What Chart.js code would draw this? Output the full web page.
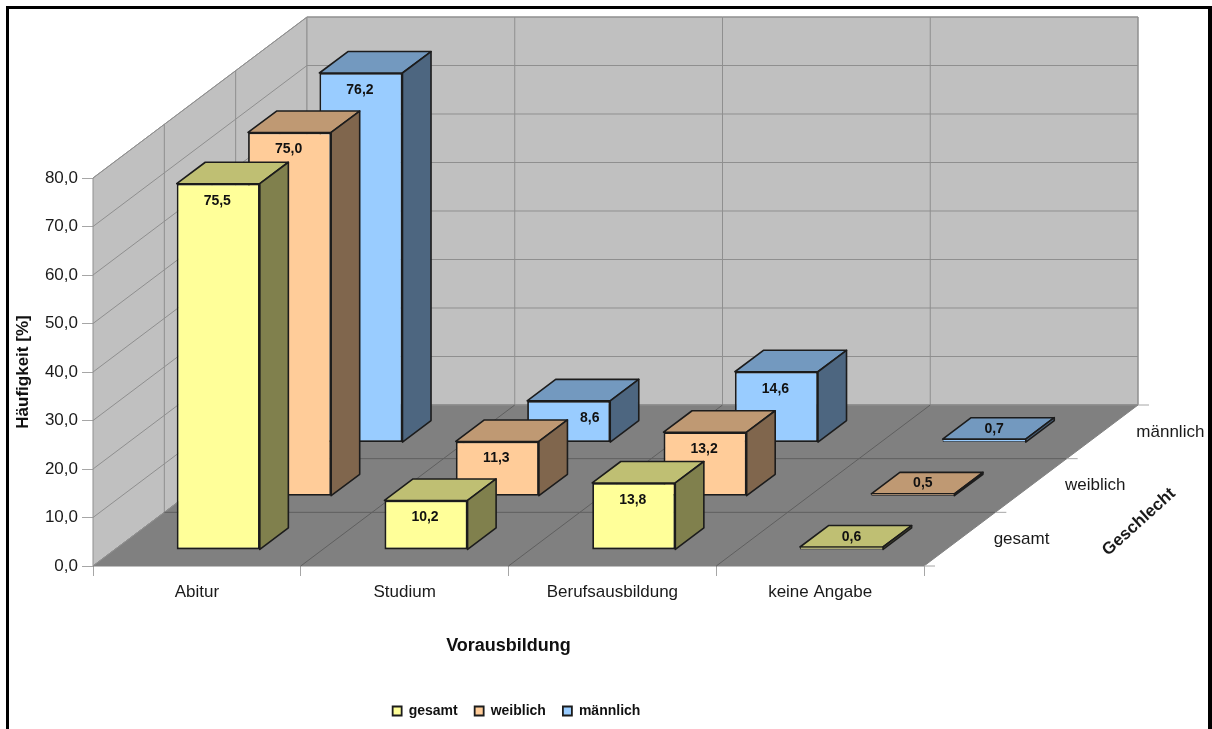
<!DOCTYPE html>
<html lang="de">
<head>
  <meta charset="UTF-8">
  <title>Vorausbildung</title>
  <script src="https://cdn.jsdelivr.net/npm/chart.js"></script>
  <style>
    html, body { margin: 0; background: #fff; overflow: hidden; }
    #grafik { position: absolute; left: 0; top: 0; }
    .rahmen {
      position: absolute; left: 6px; top: 6px; width: 1206px; height: 723px;
      box-sizing: border-box; border: solid #000; border-width: 3px 4px 0 3px;
      pointer-events: none;
    }
  </style>
</head>
<body>
  <canvas id="grafik" width="1212" height="729"></canvas>
  <div class="rahmen"></div>

  <script>
    const kategorien = ['Abitur', 'Studium', 'Berufsausbildung', 'keine Angabe'];
    const gesamt = [75.5, 10.2, 13.8, 0.6];
    const weiblich = [75.0, 11.3, 13.2, 0.5];
    const maennlich = [76.2, 8.6, 14.6, 0.7];

    const FONT = '"Liberation Sans", Arial, sans-serif';
    const TEXT = '#1a1a1a';
    const LINIE = '#1c1c1c';

    // Tiefe des Diagramms in Pixeln, alles Raeumliche haengt daran
    const TIEFE_X = 214;
    const TIEFE_Y = 161;
    const SCHRITT = 1 / 3;      // eine Reihe
    const BALKEN_T = 0.4 * SCHRITT;
    const BALKEN_VORN = 0.3 * SCHRITT;

    function komma(v) {
      return v.toFixed(1).replace('.', ',');
    }

    function poly(ctx, punkte, fill, stroke, breite) {
      ctx.beginPath();
      punkte.forEach((p, i) => i ? ctx.lineTo(p[0], p[1]) : ctx.moveTo(p[0], p[1]));
      ctx.closePath();
      if (fill) { ctx.fillStyle = fill; ctx.fill(); }
      if (stroke) { ctx.strokeStyle = stroke; ctx.lineWidth = breite; ctx.stroke(); }
    }

    function linie(ctx, x1, y1, x2, y2) {
      ctx.beginPath();
      ctx.moveTo(x1, y1);
      ctx.lineTo(x2, y2);
      ctx.stroke();
    }

    // Waende, Boden, Gitter und die Beschriftung der Tiefenachse
    const raum = {
      id: 'raum',
      afterLayout(chart) {
        chart.legend.left += 8;
        chart.legend.right += 8;
        chart.legend.top -= 1;
        chart.legend.bottom -= 1;
      },
      beforeDatasetsDraw(chart) {
        const ctx = chart.ctx;
        const sx = chart.scales.x;
        const sy = chart.scales.y;
        const l = sx.left, r = sx.right;
        const oben = sy.getPixelForValue(80), unten = sy.getPixelForValue(0);
        const breite = (r - l) / kategorien.length;

        ctx.save();
        poly(ctx, [[l, oben], [l + TIEFE_X, oben - TIEFE_Y], [l + TIEFE_X, unten - TIEFE_Y], [l, unten]], '#c0c0c0', '#8f8f8f', 1);
        poly(ctx, [[l + TIEFE_X, oben - TIEFE_Y], [r + TIEFE_X, oben - TIEFE_Y], [r + TIEFE_X, unten - TIEFE_Y], [l + TIEFE_X, unten - TIEFE_Y]], '#c0c0c0', '#8f8f8f', 1);
        poly(ctx, [[l, unten], [r, unten], [r + TIEFE_X, unten - TIEFE_Y], [l + TIEFE_X, unten - TIEFE_Y]], '#808080', '#808080', 1);

        ctx.strokeStyle = '#8f8f8f';
        ctx.lineWidth = 1;
        sy.ticks.forEach(t => {
          const y = sy.getPixelForValue(t.value);
          linie(ctx, l, y, l + TIEFE_X, y - TIEFE_Y);
          linie(ctx, l + TIEFE_X, y - TIEFE_Y, r + TIEFE_X, y - TIEFE_Y);
        });
        for (let i = 1; i < 3; i++) {
          const f = i * SCHRITT;
          linie(ctx, l + f * TIEFE_X, oben - f * TIEFE_Y, l + f * TIEFE_X, unten - f * TIEFE_Y);
        }
        for (let i = 1; i <= kategorien.length; i++) {
          const x = l + i * breite + TIEFE_X;
          linie(ctx, x, oben - TIEFE_Y, x, unten - TIEFE_Y);
        }

        ctx.strokeStyle = '#5f5f5f';
        for (let i = 1; i < kategorien.length; i++) {
          const x = l + i * breite;
          linie(ctx, x, unten, x + TIEFE_X, unten - TIEFE_Y);
        }
        for (let i = 1; i < 3; i++) {
          const f = i * SCHRITT;
          linie(ctx, l + f * TIEFE_X, unten - f * TIEFE_Y, r + f * TIEFE_X, unten - f * TIEFE_Y);
        }

        // kleine Striche rechts neben dem Boden
        ctx.strokeStyle = '#a6a6a6';
        for (let i = 0; i <= 3; i++) {
          const f = i * SCHRITT;
          linie(ctx, r + f * TIEFE_X, unten - f * TIEFE_Y, r + f * TIEFE_X + 11, unten - f * TIEFE_Y);
        }

        // Tiefenachse
        ctx.fillStyle = TEXT;
        ctx.font = '17px ' + FONT;
        ctx.textAlign = 'left';
        ctx.textBaseline = 'middle';
        chart.data.datasets.forEach((ds, i) => {
          const f = (i + 0.5) * SCHRITT;
          ctx.fillText(ds.label, r + f * TIEFE_X + 34, unten - f * TIEFE_Y);
        });
        ctx.font = 'bold 17px ' + FONT;
        ctx.textAlign = 'center';
        ctx.translate(r + 215, unten - 44);
        ctx.rotate(-42 * Math.PI / 180);
        ctx.fillText('Geschlecht', 0, 0);
        ctx.restore();
      },
      // Dach und Seite vor dem Balken, dann die Vorderseite verschoben zeichnen
      beforeDatasetDraw(chart, args) {
        const ctx = chart.ctx;
        const ds = chart.data.datasets[args.index];
        const tx = BALKEN_T * TIEFE_X, ty = BALKEN_T * TIEFE_Y;
        const f = args.index * SCHRITT + BALKEN_VORN;

        ctx.save();
        ctx.translate(f * TIEFE_X, -f * TIEFE_Y);
        ctx.lineJoin = 'round';
        args.meta.data.forEach(el => {
          const links = el.x - el.width / 2, rechts = el.x + el.width / 2;
          poly(ctx, [[links, el.y], [links + tx, el.y - ty], [rechts + tx, el.y - ty], [rechts, el.y]], ds.dachFarbe, LINIE, 1.6);
          poly(ctx, [[rechts, el.y], [rechts + tx, el.y - ty], [rechts + tx, el.base - ty], [rechts, el.base]], ds.seitenFarbe, LINIE, 1.6);
        });
      },
      afterDatasetDraw(chart) {
        chart.ctx.restore();
      },
      // Werte zuletzt, damit kein Balken sie verdeckt
      afterDatasetsDraw(chart) {
        const ctx = chart.ctx;
        const tx = BALKEN_T * TIEFE_X, ty = BALKEN_T * TIEFE_Y;

        ctx.save();
        ctx.fillStyle = '#111';
        ctx.font = 'bold 14px ' + FONT;
        ctx.textAlign = 'center';
        ctx.textBaseline = 'middle';
        chart.data.datasets.forEach((ds, d) => {
          const f = d * SCHRITT + BALKEN_VORN;
          chart.getDatasetMeta(d).data.forEach((el, i) => {
            const flach = el.base - el.y < 20;
            let x = (flach ? el.x + tx * 0.35 : el.x - 1) + f * TIEFE_X;
            const y = (flach ? el.y - ty / 2 + 0.5 : el.y + 17) - f * TIEFE_Y;
            // im Original weicht dieser Wert dem Dach davor nach rechts aus
            if (d === 2 && i === 1) x += 22;
            ctx.fillText(komma(ds.data[i]), x, y);
          });
        });
        ctx.restore();
      }
    };

    new Chart(document.getElementById('grafik'), {
      type: 'bar',
      data: {
        labels: kategorien,
        datasets: [
          { label: 'gesamt', data: gesamt, backgroundColor: '#ffff99', dachFarbe: '#bfbf73', seitenFarbe: '#80804d' },
          { label: 'weiblich', data: weiblich, backgroundColor: '#ffcc99', dachFarbe: '#bf9973', seitenFarbe: '#80664d' },
          { label: 'männlich', data: maennlich, backgroundColor: '#99ccff', dachFarbe: '#7399bf', seitenFarbe: '#4d6680' }
        ]
      },
      options: {
        responsive: false,
        animation: false,
        layout: { padding: { top: 178, right: 288, bottom: 0, left: 0 } },
        datasets: {
          bar: {
            grouped: false,
            barPercentage: 0.4,
            categoryPercentage: 1,
            borderColor: LINIE,
            borderWidth: c => (c.raw < 2 ? 0.8 : 1.8),
            borderSkipped: false,
            clip: false
          }
        },
        scales: {
          x: {
            afterFit(s) { s.height = 122; },
            grid: { drawOnChartArea: false, tickLength: 10, color: '#a6a6a6' },
            border: { display: false },
            ticks: { color: TEXT, font: { family: FONT, size: 17 }, padding: 6, maxRotation: 0 },
            title: {
              display: true, text: 'Vorausbildung', color: '#111',
              font: { family: FONT, size: 18, weight: 'bold' },
              padding: { top: 0, bottom: 31 }
            }
          },
          y: {
            min: 0,
            max: 80,
            afterFit(s) { s.width = 93; },
            grid: { drawOnChartArea: false, tickLength: 11, color: '#a6a6a6' },
            border: { display: false },
            ticks: {
              stepSize: 10, color: TEXT, padding: 4,
              font: { family: FONT, size: 17 },
              callback: v => komma(v)
            },
            title: {
              display: true, text: 'Häufigkeit [%]', color: '#111',
              font: { family: FONT, size: 17, weight: 'bold' },
              padding: { top: 13, bottom: 0 }
            }
          }
        },
        plugins: {
          tooltip: { enabled: false },
          legend: {
            position: 'bottom',
            fullSize: false,
            onClick: null,
            labels: {
              boxWidth: 9, boxHeight: 9, padding: 17, color: '#111',
              font: { family: FONT, size: 14, weight: 'bold' }
            }
          }
        }
      },
      plugins: [raum]
    });
  </script>
</body>
</html>
